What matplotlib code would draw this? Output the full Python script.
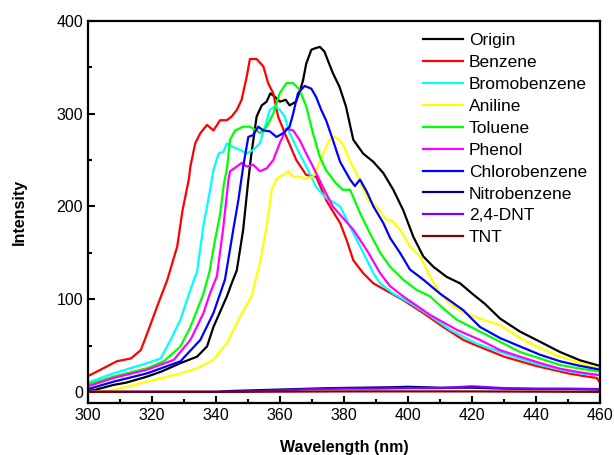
import numpy as np
import matplotlib.pyplot as plt
from matplotlib.ticker import MultipleLocator

plt.rcParams['font.family'] = ['Liberation Sans', 'DejaVu Sans']

# Origin
x_origin = [300, 302, 308, 312, 318.5, 323, 328.9, 334.1, 337.2, 339.2, 341.5, 343.4, 345, 346.5,
            348.5, 350, 351, 352.7, 354.3, 355.8, 357, 358.5, 360, 361.8, 363, 365, 366, 367.2,
            368.2, 369.8, 371.3, 372.5, 373.9, 374.9, 376.5, 378.6, 380.6, 382.9, 386, 389.2,
            392.3, 395.4, 398.5, 401.7, 404.8, 407.9, 412.1, 416.3, 420.4, 424, 428.8, 435, 441.3,
            447.5, 453.8, 460]
y_origin = [1, 2, 7.5, 10, 16.5, 22, 31, 38, 49, 70, 88, 103, 118, 131,
            175, 225, 255, 297, 309, 313, 322, 318, 313, 315, 309, 313, 322, 336,
            354, 369, 371, 372, 367, 358, 344, 329, 308, 272, 257, 248,
            236, 218, 196, 167, 146, 135, 124, 117, 105, 95, 79, 65, 54,
            43, 34, 28]

# Benzene
x_benz = [300, 304, 309, 313.4, 316.5, 318.5, 321.6, 324.8, 327.9, 329.5, 331.5, 332, 333.5, 335.1,
          337.2, 339.2, 341.3, 343.4, 344.9, 346.5, 348, 349.6, 350.6, 352.7, 354.8, 356.3,
          357.9, 359.4, 362, 365.1, 368.2, 371.3, 374.4, 375.6, 378.8, 380.8, 382.9, 386,
          389.2, 392.3, 398.5, 404.8, 411, 417.3, 420, 425, 430, 435, 440, 445, 450, 455,
          459, 460]
y_benz = [17, 24, 33, 36, 45, 63, 92, 121, 157, 195, 229, 243, 268, 279,
          288, 282, 293, 293, 297, 304, 315, 340, 359, 359, 351, 333,
          322, 297, 275, 250, 234, 232, 207, 200, 182, 164, 142, 128,
          117, 111, 99, 85, 70, 56, 52, 45, 38, 33, 28, 24, 20, 17,
          15, 10]

# Bromobenzene
x_brom = [300, 308, 318.5, 322.7, 325.8, 328.9, 332, 334.1, 336.1, 338, 339.2, 340.8, 342.3,
          343.4, 345.4, 347.5, 349.6, 351.6, 353.7, 355.3, 356.8, 358.4, 360, 361.5, 363,
          365.1, 368.2, 371.3, 374.4, 376.5, 378.8, 381.9, 385, 389.2, 391.3, 395.4, 400.6,
          406.9, 413.1, 421.5, 428.8, 435, 441.3, 447.5, 453.8, 460]
y_brom = [10, 20, 31, 36, 56, 78, 110, 130, 180, 215, 239, 257, 259,
          268, 264, 261, 257, 261, 268, 286, 304, 308, 304, 297, 279,
          264, 243, 221, 209, 205, 200, 178, 157, 128, 117, 106, 96,
          82, 67, 52, 43, 36, 29, 24, 20, 18]

# Aniline
x_anil = [300, 308, 318.5, 328.9, 334.1, 339.2, 343.4, 347.5, 351.1, 353.7, 355.8, 357.4,
          358.9, 361, 362.5, 364.1, 366.1, 368.2, 370.3, 371.8, 373.4, 375.5, 377, 378.6,
          380.1, 381.7, 383.8, 385.8, 387.9, 390.2, 393.3, 394.9, 397.5, 400.6, 403.8, 406.9,
          410, 413, 417, 422.5, 428.8, 435, 441.3, 447.5, 453.8, 460]
y_anil = [0, 2, 11, 20, 25.5, 34.5, 52.5, 81, 103, 139, 178, 218,
          230, 234, 238, 232, 232, 230, 232, 243, 257, 272, 275, 272,
          264, 250, 236, 220, 205, 200, 185, 185, 175, 157, 146, 124,
          106, 95, 86, 79, 72, 58, 47, 38, 31, 25]

# Toluene
x_tolu = [300, 308, 318.5, 323.7, 328.9, 332, 336, 338, 339.5, 341.3, 342.5, 343.4, 344.4,
          346, 348.5, 350.6, 352.7, 353.7, 355.8, 357.9, 359.9, 362, 364.1, 366.1, 368.2,
          370.3, 372.4, 374.4, 377.5, 379.6, 381.9, 385, 388.1, 391.3, 394.4, 398.5, 402.7,
          406.9, 411, 415.2, 422.5, 428.8, 435, 441.3, 447.5, 453.8, 460]
y_tolu = [8, 16.5, 25.5, 33, 49, 70, 105, 130, 160, 192, 225, 240, 272,
          282, 286, 286, 282, 279, 286, 300, 322, 333, 333, 326, 308,
          279, 254, 239, 225, 218, 218, 193, 171, 150, 135, 121, 110,
          103, 90, 78, 65, 54, 43, 36, 29, 25, 22]

# Phenol
x_phen = [300, 308, 318.5, 326.8, 332, 336.1, 338, 340.3, 342.3, 343.9, 344.4, 346.5, 348,
          349.6, 351.6, 353.7, 355.8, 357.9, 359.9, 362, 364.1, 366.1, 368.2, 370.3, 373.4,
          376.5, 378.8, 382.9, 387.1, 391.3, 394.4, 398.5, 406.9, 415.2, 422.5, 428.8, 435,
          441.3, 447.5, 453.8, 460]
y_phen = [6, 15, 24, 34.5, 56, 85, 105, 125, 178, 229, 238, 243, 247,
          243, 245, 238, 241, 250, 268, 284, 282, 272, 257, 243, 221,
          200, 191, 175, 153, 128, 114, 103, 83, 67, 56, 45, 38,
          31, 25, 21, 18]

# Chlorobenzene
x_chlo = [300, 308, 318.5, 328.9, 335.1, 339.2, 342.8, 345.4, 347, 348.5, 350.1, 351.6, 353.2,
          354.8, 356.8, 358.9, 361, 363, 364.1, 365.6, 367.7, 369.8, 371.3, 372.9, 374.4,
          376.5, 378.8, 381.9, 383.4, 385, 387.1, 389.2, 392.3, 394.4, 397.5, 400.6, 404.8,
          410, 417.3, 422.5, 428.8, 435, 441.3, 447.5, 453.8, 460]
y_chlo = [3, 11, 20, 33, 56, 85, 121, 175, 207, 243, 275, 277, 286,
          282, 281, 275, 279, 286, 300, 322, 330, 327, 318, 304, 293,
          272, 248, 229, 222, 229, 216, 200, 182, 166, 150, 132, 121,
          106, 88, 70, 58, 49, 40, 33, 28, 24]

# Nitrobenzene, 2,4-DNT, TNT (near zero)
x_nitro = [300, 340, 345, 355, 365, 375, 385, 395, 400, 410, 420, 430, 440, 450, 460]
y_nitro = [0, 0, 1, 2, 3, 4, 4.5, 5, 5.5, 4.5, 4.5, 3.5, 3, 3, 2.5]
x_dnt = [300, 345, 350, 360, 370, 380, 390, 400, 410, 420, 425, 430, 440, 450, 460]
y_dnt = [0, 0, 0.5, 1.5, 3, 3.5, 3.5, 4, 4, 6, 5, 4, 3.5, 3.5, 3]
x_tnt = [300, 340, 380, 420, 460]
y_tnt = [0, 0, 0.5, 0.5, 0]

series = [
    ('Origin', x_origin, y_origin, '#000000'),
    ('Benzene', x_benz, y_benz, '#ff0000'),
    ('Bromobenzene', x_brom, y_brom, '#00ffff'),
    ('Aniline', x_anil, y_anil, '#ffff00'),
    ('Toluene', x_tolu, y_tolu, '#00ff00'),
    ('Phenol', x_phen, y_phen, '#ff00ff'),
    ('Chlorobenzene', x_chlo, y_chlo, '#0000ff'),
    ('Nitrobenzene', x_nitro, y_nitro, '#000080'),
    ('2,4-DNT', x_dnt, y_dnt, '#8000ff'),
    ('TNT', x_tnt, y_tnt, '#800000'),
]

fig = plt.figure(figsize=(6.14, 4.55), dpi=100)
ax = fig.add_axes([0.1433, 0.1143, 0.8339, 0.8395])

for name, xs, ys, c in series:
    ax.plot(xs, ys, color=c, lw=1.6, label=name)

ax.set_xlim(300, 460)
ax.set_ylim(-12, 400)
ax.xaxis.set_major_locator(MultipleLocator(20))
ax.xaxis.set_minor_locator(MultipleLocator(10))
ax.yaxis.set_major_locator(MultipleLocator(100))
ax.yaxis.set_minor_locator(MultipleLocator(50))
ax.tick_params(which='both', direction='in', labelsize=11.5, width=1.5)
ax.tick_params(which='major', length=5)
ax.tick_params(which='minor', length=3)
for s in ax.spines.values():
    s.set_linewidth(1.6)

ax.set_xlabel('Wavelength (nm)', fontsize=11.5, fontweight='bold', labelpad=12)
ax.set_ylabel('Intensity', fontsize=11.5, fontweight='bold', labelpad=21)

ax.legend(loc='upper left', bbox_to_anchor=(0.64, 0.987), frameon=False, fontsize=12.5,
          handlelength=2.33, handletextpad=0.33, labelspacing=0.39, borderaxespad=0)

fig.savefig('out.png', dpi=100)
